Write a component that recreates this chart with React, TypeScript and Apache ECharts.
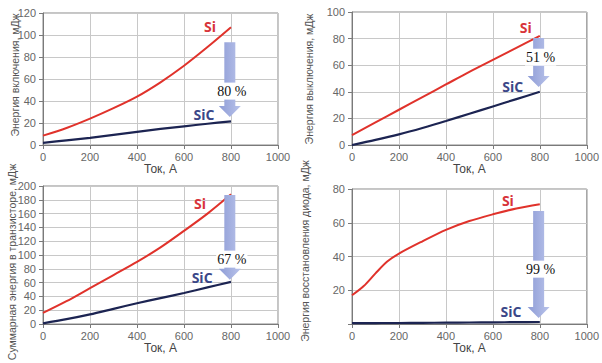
import React, { useEffect, useRef } from "react";
import * as echarts from "echarts";

// Current, A
const CURRENT = [0, 100, 200, 300, 400, 500, 600, 700, 800];
const CURRENT_DIODE = [0, 50, 100, 150, 200, 300, 400, 500, 600, 700, 800];

// Turn-on energy, mJ
const ON_SI = [8.5, 15.5, 24, 33.5, 44, 57, 72, 89, 107];
const ON_SIC = [2, 4.2, 6.5, 9.2, 12, 14.6, 17, 19.3, 21.5];
// Turn-off energy, mJ
const OFF_SI = [7.5, 17, 26.5, 36, 45.5, 55, 64, 73, 82];
const OFF_SIC = [0, 3.8, 8, 12.8, 18, 23.5, 29, 34.5, 40];
// Total transistor energy, mJ
const TOT_SI = [16, 33, 52, 71, 90, 111, 135, 160, 188];
const TOT_SIC = [1, 7, 14, 22, 30, 37.5, 45, 53, 61];
// Diode recovery energy, mJ
const REC_SI = [17, 22.5, 30, 37, 41.7, 49, 55.8, 61, 65, 68.5, 71];
const REC_SIC = [0.5, 0.5, 0.55, 0.6, 0.6, 0.7, 0.8, 0.9, 1.0, 1.1, 1.2];

const X_TICK_MAX = 1000;
const X_TICK_STEP = 200;
const Y_MAX = [120, 100, 200, 80];
const Y_STEP = 20;
const Y_TITLES = [
  "Энергия включения, мДж",
  "Энергия выключения, мДж",
  "Суммарная энергия в транзисторе, мДж",
  "Энергия восстановления диода, мДж",
];
const X_TITLE = "Ток, А";
const REDUCTION = ["80 %", "51 %", "67 %", "99 %"];
const SERIES_NAMES = ["Si", "SiC"];

// annotation anchors in data coordinates: [arrow top, arrow tip, text y]
const ARROW_X = 795;
const ARROWS = [
  [93.5, 25.5, 49],
  [80.5, 43.6, 66],
  [187, 64, 94],
  [67, 3.6, 32.5],
];
const LABEL_SI = [
  [711, 108],
  [740, 88.7],
  [668, 175],
  [664, 73],
];
const LABEL_SIC = [
  [685, 28],
  [685, 44],
  [677, 68],
  [677, 7.7],
];

const GRIDS = [
  { left: 43, top: 13, width: 235, height: 132 },
  { left: 352, top: 12, width: 235, height: 133 },
  { left: 43, top: 186, width: 235, height: 138 },
  { left: 352, top: 189, width: 235, height: 135 },
];
const Y_TITLE_POS = [
  [15, 75],
  [309, 79],
  [12, 262],
  [305, 251],
];

const SI_COLOR = "#e0322b";
const SIC_COLOR = "#1c2452";

export default function App() {
  const ref = useRef<HTMLDivElement>(null);
  useEffect(() => {
    if (!ref.current) return;
    const chart = echarts.init(ref.current, undefined, { renderer: "svg" });
    const panels = [
      { x: CURRENT, si: ON_SI, sic: ON_SIC },
      { x: CURRENT, si: OFF_SI, sic: OFF_SIC },
      { x: CURRENT, si: TOT_SI, sic: TOT_SIC },
      { x: CURRENT_DIODE, si: REC_SI, sic: REC_SIC },
    ];
    const pair = (xs: number[], ys: number[]) => xs.map((x, i) => [x, ys[i]]);
    const option: any = {
      animation: false,
      backgroundColor: "#fff",
      grid: GRIDS.map((g) => ({
        ...g,
        show: true,
        borderColor: "#8a8a8a",
        borderWidth: 1,
        backgroundColor: "transparent",
      })),
      xAxis: GRIDS.map((_, i) => ({
        type: "value",
        gridIndex: i,
        min: 0,
        max: X_TICK_MAX,
        interval: X_TICK_STEP,
        name: X_TITLE,
        nameLocation: "middle",
        nameGap: 17,
        nameTextStyle: { color: "#444", fontSize: 12, fontFamily: "Liberation Sans" },
        axisLine: { show: true, lineStyle: { color: "#7a7a7a" } },
        axisTick: { show: true, length: 4, lineStyle: { color: "#7a7a7a" } },
        axisLabel: {
          color: "#666",
          fontSize: 11,
          fontFamily: "Liberation Sans",
          margin: 6,
          formatter: (v: number) => String(v),
        },
        splitLine: { show: true, lineStyle: { color: "#c8c8c8" } },
      })),
      yAxis: GRIDS.map((_, i) => ({
        type: "value",
        gridIndex: i,
        min: 0,
        max: Y_MAX[i],
        interval: Y_STEP,
        axisLine: { show: true, lineStyle: { color: "#7a7a7a" } },
        axisTick: { show: true, length: 4, lineStyle: { color: "#7a7a7a" } },
        axisLabel: {
          color: "#666",
          fontSize: 11,
          fontFamily: "Liberation Sans",
          margin: 7,
          formatter: (v: number) => (i === 3 && v === 0 ? "" : String(v)),
        },
        splitLine: { show: true, lineStyle: { color: "#c8c8c8" } },
      })),
      series: panels.flatMap((p, i) => [
        {
          type: "line",
          name: SERIES_NAMES[0],
          xAxisIndex: i,
          yAxisIndex: i,
          data: pair(p.x, p.si),
          smooth: 0.3,
          symbol: "none",
          lineStyle: { color: SI_COLOR, width: 2 },
          z: 3,
        },
        {
          type: "line",
          name: SERIES_NAMES[1],
          xAxisIndex: i,
          yAxisIndex: i,
          data: pair(p.x, p.sic),
          smooth: 0.3,
          symbol: "none",
          lineStyle: { color: SIC_COLOR, width: 2.2 },
          z: 3,
        },
      ]),
    };
    chart.setOption(option);

    const px = (i: number, x: number, y: number) =>
      chart.convertToPixel({ gridIndex: i } as any, [x, y]) as number[];

    const graphics: any[] = [];
    GRIDS.forEach((_, i) => {
      const [cx, top] = px(i, ARROW_X, ARROWS[i][0]);
      const [, tip] = px(i, ARROW_X, ARROWS[i][1]);
      const [, ty] = px(i, ARROW_X, ARROWS[i][2]);
      const hs = tip - 11;
      const sw = 5.5;
      const hw = 11;
      graphics.push({
        type: "polygon",
        z: 10,
        shape: {
          points: [
            [cx - sw, top],
            [cx + sw, top],
            [cx + sw, hs],
            [cx + hw, hs],
            [cx, tip],
            [cx - hw, hs],
            [cx - sw, hs],
          ],
        },
        style: {
          fill: new echarts.graphic.LinearGradient(0, 0, 1, 0, [
            { offset: 0, color: "#8e9cd6" },
            { offset: 1, color: "#b9c3ea" },
          ]),
        },
      });
      graphics.push({
        type: "text",
        z: 11,
        x: cx + 2,
        y: ty,
        style: {
          text: REDUCTION[i],
          font: '14px "Liberation Serif"',
          fill: "#111",
          align: "center",
          verticalAlign: "middle",
          backgroundColor: "#fff",
          padding: [2, 1, 1, 1],
        },
      });
      const [sx, sy] = px(i, LABEL_SI[i][0], LABEL_SI[i][1]);
      graphics.push({
        type: "text",
        z: 11,
        x: sx,
        y: sy,
        style: {
          text: SERIES_NAMES[0],
          font: 'bold 14px "Open Sans"',
          fill: "#d8343a",
          align: "center",
          verticalAlign: "middle",
        },
      });
      const [kx, ky] = px(i, LABEL_SIC[i][0], LABEL_SIC[i][1]);
      graphics.push({
        type: "text",
        z: 11,
        x: kx,
        y: ky,
        style: {
          text: SERIES_NAMES[1],
          font: 'bold 14px "Open Sans"',
          fill: "#3b4788",
          align: "center",
          verticalAlign: "middle",
        },
      });
      graphics.push({
        type: "text",
        z: 11,
        x: Y_TITLE_POS[i][0],
        y: Y_TITLE_POS[i][1],
        rotation: Math.PI / 2,
        style: {
          text: Y_TITLES[i],
          font: '10.5px "Liberation Sans"',
          fill: "#555",
          align: "center",
          verticalAlign: "middle",
        },
      });
    });
    chart.setOption({ graphic: graphics });
    return () => chart.dispose();
  }, []);
  return (
    <div
      ref={ref}
      style={{ position: "absolute", left: 0, top: 0, width: 602, height: 363, background: "#fff" }}
    />
  );
}
